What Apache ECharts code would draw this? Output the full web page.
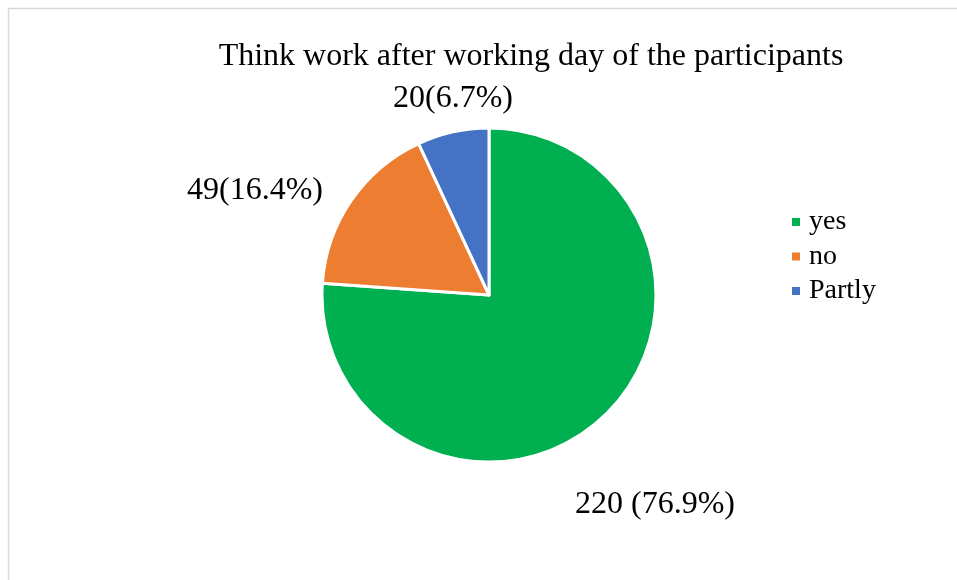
<!DOCTYPE html>
<html>
<head>
<meta charset="utf-8">
<script src="https://cdn.jsdelivr.net/npm/echarts@6/dist/echarts.min.js"></script>
<style>
  html, body { margin: 0; padding: 0; background: #fff; }
  #chart { width: 957px; height: 580px; }
</style>
</head>
<body>
<div id="chart"></div>
<script>
// Survey answers
const categories = ['yes', 'no', 'Partly'];
const counts = [220, 49, 20];
const labelTexts = ['220 (76.9%)', '49(16.4%)', '20(6.7%)'];
const colors = ['#00b050', '#ed7d31', '#4472c4'];

// Where each slice's label sits (centre of the text)
const labelSpots = [[655, 505], [255, 191], [453, 99]];

const serif = '"Liberation Serif", "Times New Roman", serif';

const chart = echarts.init(document.getElementById('chart'), null, { renderer: 'canvas' });

chart.setOption({
  backgroundColor: '#fff',
  animation: false,
  color: colors,
  title: {
    text: 'Think work after working day of the participants',
    left: 526,
    top: 36,
    textAlign: 'center',
    textStyle: { fontFamily: serif, fontSize: 32, fontWeight: 'normal', color: '#000' }
  },
  graphic: [{
    type: 'rect',
    shape: { x: 8.5, y: 8.5, width: 1200, height: 1200 },
    style: { fill: 'none', stroke: '#d9d9d9', lineWidth: 1.5 },
    silent: true
  }],
  legend: {
    orient: 'vertical',
    left: 790,
    top: 208,
    padding: 0,
    itemWidth: 10,
    itemHeight: 10,
    itemGap: 6.5,
    icon: 'rect',
    data: categories,
    textStyle: { fontFamily: serif, fontSize: 28, lineHeight: 28, color: '#000', padding: [0, 0, 0, 3] }
  },
  series: [{
    type: 'pie',
    center: [489, 295],
    radius: 167,
    startAngle: 90,
    clockwise: true,
    itemStyle: { borderColor: '#fff', borderWidth: 3 },
    label: {
      show: true,
      position: 'outside',
      fontFamily: serif,
      fontSize: 32,
      color: '#000',
      formatter: p => labelTexts[p.dataIndex]
    },
    labelLine: { show: false },
    labelLayout: p => ({
      x: labelSpots[p.dataIndex][0],
      y: labelSpots[p.dataIndex][1],
      align: 'center',
      verticalAlign: 'middle'
    }),
    emphasis: { disabled: true },
    data: categories.map((c, i) => ({ name: c, value: counts[i] }))
  }]
});
</script>
</body>
</html>
